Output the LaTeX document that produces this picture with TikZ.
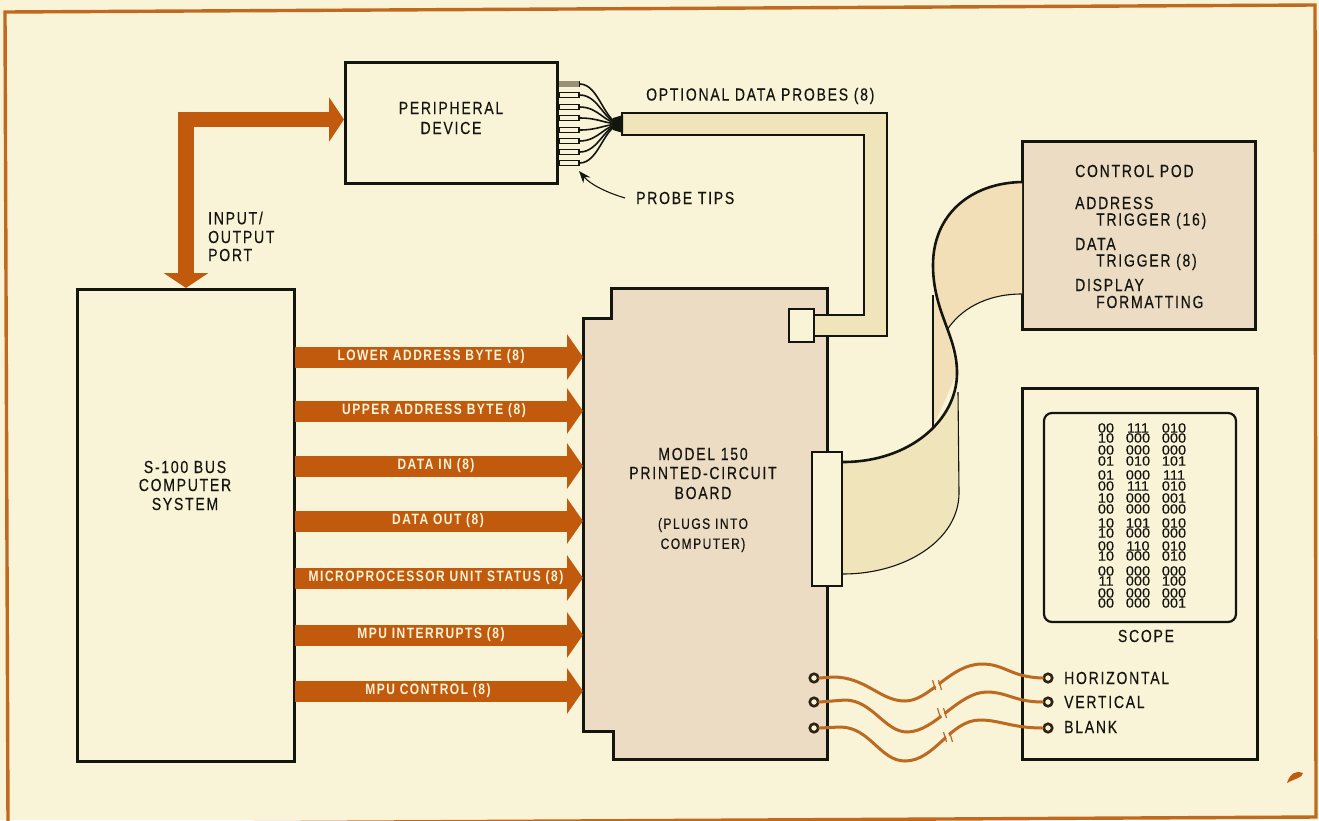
\documentclass[tikz,border=0pt]{standalone}
\usepackage{fontspec}
\setmainfont{Liberation Sans}[FakeStretch=0.80,LetterSpace=10,UprightFeatures={FakeBold=0.35}]
\newfontfamily\digitfont{Liberation Sans}[FakeStretch=1.08,FakeBold=0.3]
\usetikzlibrary{arrows.meta,calc}
\definecolor{paper}{HTML}{F9F3D8}
\definecolor{rust}{HTML}{C25A0E}
\definecolor{edgebrown}{HTML}{BF6A1E}
\definecolor{boardfill}{HTML}{ECDCC4}
\definecolor{cablefill}{HTML}{F0E4BA}
\definecolor{ribbonfill}{HTML}{F2DFB8}
\definecolor{ink}{HTML}{15150F}
\definecolor{wirebrown}{HTML}{BC6A22}
\tikzset{
  box/.style={draw=ink,line width=3pt,inner sep=0pt,anchor=center},
  thinedge/.style={draw=ink,line width=1.1pt},
  heavyedge/.style={draw=ink,line width=2.6pt,line cap=round},
  lbl/.style={inner sep=0pt,text=ink,font=\fontsize{17.5}{18}\selectfont},
  lblleft/.style={lbl,anchor=west},
  smalllbl/.style={inner sep=0pt,text=ink,font=\fontsize{15}{16}\selectfont},
  buslbl/.style={inner sep=0pt,text=paper,font=\fontsize{15}{16}\selectfont\bfseries},
  busarrow/.style={draw=rust,line width=21pt,-{Triangle[length=16pt,width=45pt,fill=rust]}},
  ioarrow/.style={draw=rust,line width=15.5pt,line join=miter,
    {Triangle[length=15pt,width=44pt,fill=rust]}-{Triangle[length=15pt,width=44pt,fill=rust]}},
  wirestyle/.style={draw=wirebrown,line width=3pt,line cap=round},
  breakgap/.style={draw=paper,line width=3.5pt},
  breaktick/.style={draw=wirebrown,line width=1.2pt},
  terminal/.style={circle,draw=ink!85!wirebrown,line width=2.6pt,fill=paper,minimum size=8.5pt,inner sep=0pt},
  probetip/.style={draw=ink,line width=1.2pt,fill=paper,minimum width=20pt,minimum height=5.5pt,inner sep=0pt},
  probewire/.style={draw=ink,line width=1.6pt},
  digits/.style={inner sep=0pt,text=ink,align=center,font=\digitfont\fontsize{13.5}{10}\selectfont},
}
\begin{document}
\begin{tikzpicture}[x=1pt,y=-1pt]
\useasboundingbox (0,0) rectangle (1319,820);
\fill[paper] (0,0) rectangle (1319,820);
% page border
\draw[edgebrown,line width=3.4pt,line join=miter] (5,12) -- (1315,5) -- (1316,817) -- (8,824) -- cycle;
% stain
\fill[rust] (1287,783) .. controls (1290,773) and (1297,770) .. (1303,773) .. controls (1302,778) and (1296,778) .. (1287,783) -- cycle;

% main boxes
\node[box,minimum width=217pt,minimum height=472pt] (s100) at (185.5,525) {};
\node[box,minimum width=212pt,minimum height=121pt] (periph) at (451,122.5) {};
\node[box,fill=boardfill,minimum width=233pt,minimum height=188pt] (pod) at (1138.5,235) {};
\node[box,minimum width=235pt,minimum height=371pt] (scope) at (1139.5,573.5) {};
\node[draw=ink,line width=2.2pt,rounded corners=8pt,inner sep=0pt,minimum width=192pt,minimum height=209pt] (screen) at (1140,517.5) {};

% circuit board outline
\draw[draw=ink,line width=3pt,fill=boardfill,line join=miter]
  (611,288) -- (827,288) -- (827,759) -- (613,759) -- (613,731) -- (583,731) -- (583,318) -- (611,318) -- cycle;

% I/O arrow
\coordinate (ioS) at (186,288);
\coordinate (ioC) at (186,119.5);
\coordinate (ioP) at (344,119.5);
\draw[ioarrow] (ioS) -- (ioC) -- (ioP);

% bus arrows
\foreach \n/\y/\cx/\t in {
  1/357/431/{LOWER ADDRESS BYTE (8)},
  2/411/434/{UPPER ADDRESS BYTE (8)},
  3/466/436/{DATA IN (8)},
  4/521/438/{DATA OUT (8)},
  5/578/436/{MICROPROCESSOR UNIT STATUS (8)},
  6/635/431/{MPU INTERRUPTS (8)},
  7/691/428/{MPU CONTROL (8)}}{
  \coordinate (bs\n) at (295,\y);
  \coordinate (be\n) at (583,\y);
  \draw[busarrow] (bs\n) -- (be\n);
  \node[buslbl] (buslabel\n) at (\cx,\y) {\t};
}

% data probe cable
\draw[thinedge,fill=cablefill,line join=miter]
  (622,113) -- (887,113) -- (887,336) -- (814,336) -- (814,315) -- (864,315) -- (864,135) -- (622,135) -- cycle;
\node[box,line width=2.6pt,fill=paper,minimum width=25pt,minimum height=33pt] (socket) at (801.5,325.5) {};

% probe tips and wires
\coordinate (fan) at (622,124);
\foreach \n/\y in {1/84,2/95,3/107,4/118,5/130,6/141,7/152,8/163}{
  \node[probetip] (tip\n) at (569,\y) {};
  \draw[probewire] (tip\n.east) .. controls +(20,0) and +(-18,0) .. (fan);
}
\fill[cablefill!60!ink] (559,81) rectangle (579,87);
\fill[ink] (613,118) -- (623,115) -- (623,133) -- (613,130) -- cycle;

% probe tips pointer
\coordinate (ptA) at (625,198);
\coordinate (ptB) at (579,171);
\node[lblleft] (probelabel) at (636,198) {PROBE TIPS};
\draw[ink,line width=1.1pt,-{Stealth[length=12pt,width=9pt]}] (ptA) .. controls (605,192) and (590,184) .. (ptB);

% ribbon cable
\coordinate (rA) at (1022,182);
\coordinate (rB) at (933,265);
\coordinate (rC) at (957,373);
\coordinate (rD) at (843,462);
\coordinate (rE) at (1022,294);
\coordinate (rF) at (947,330);
\coordinate (rG) at (933,295);
\coordinate (rH) at (933,427);
\coordinate (rI) at (958,392);
\coordinate (rJ) at (959,493);
\coordinate (rK) at (843,574);
% back fold
\fill[ribbonfill] (rG) -- (rH) -- (rC) -- (rF) -- cycle;
\draw[thinedge] (rG) -- (rH);
% lower sheet
\fill[cablefill] (rD) .. controls (885,462) and (918,445) .. (rH) -- (rI) -- (rJ) .. controls (959,540) and (905,574) .. (rK) -- cycle;
\draw[thinedge] (rI) -- (rJ) .. controls (959,540) and (905,574) .. (rK);
% upper sheet
\fill[ribbonfill] (rA) .. controls (970,183) and (933,215) .. (rB) .. controls (933,300) and (939,315) .. (rF) .. controls (960,310) and (985,294) .. (rE) -- cycle;
\draw[thinedge] (rE) .. controls (985,294) and (960,310) .. (rF);
% heavy leading edge
\draw[heavyedge] (rA) .. controls (970,183) and (933,215) .. (rB) .. controls (933,312) and (957,335) .. (rC) .. controls (957,420) and (910,462) .. (rD);
\node[box,line width=2.4pt,fill=paper,minimum width=30pt,minimum height=134pt] (plug) at (827,519) {};

% analog lines
\node[terminal] (lh) at (814,678) {};
\node[terminal] (lv) at (814,702) {};
\node[terminal] (lb) at (814,728) {};
\node[terminal] (rh) at (1048,678) {};
\node[terminal] (rv) at (1048,702) {};
\node[terminal] (rb) at (1048,728) {};
\draw[wirestyle] (lh.east) -- (833,677) .. controls (866,677) and (880,701) .. (905,701)
   .. controls (930,701) and (950,664) .. (982,664) .. controls (1005,664) and (1010,677) .. (rh.west);
\draw[wirestyle] (lv.east) -- (845,700) .. controls (872,700) and (885,732) .. (907,732)
   .. controls (935,732) and (958,692) .. (987,692) .. controls (1007,692) and (1015,702) .. (rv.west);
\draw[wirestyle] (lb.east) -- (840,727) .. controls (870,727) and (880,761) .. (905,761)
   .. controls (935,761) and (950,720) .. (980,720) .. controls (1000,720) and (1012,728) .. (rb.west);
% breaks in the lines
\foreach \n/\x/\y in {1/937/685,2/942/713,3/948/737}{
  \coordinate (bk\n) at (\x,\y);
  \draw[breakgap] ($(bk\n)+(-3,-6)$) -- ($(bk\n)+(3,6)$);
  \draw[breaktick] ($(bk\n)+(-4.5,-5)$) -- ($(bk\n)+(-1.5,5)$);
  \draw[breaktick] ($(bk\n)+(1.5,-5)$) -- ($(bk\n)+(4.5,5)$);
}

% labels
\node[lbl] (per1) at (451,108) {PERIPHERAL};
\node[lbl] (per2) at (451,128) {DEVICE};
\node[lblleft] (optlabel) at (646,96) {OPTIONAL DATA PROBES (8)};
\node[lblleft] (io1) at (208,218) {INPUT/};
\node[lblleft] (io2) at (208,237) {OUTPUT};
\node[lblleft] (io3) at (208,255) {PORT};
\node[lbl] (sys1) at (185,467) {S-100 BUS};
\node[lbl] (sys2) at (185,485) {COMPUTER};
\node[lbl] (sys3) at (185,504) {SYSTEM};
\node[lbl] (mod1) at (703,454) {MODEL 150};
\node[lbl] (mod2) at (703,473) {PRINTED-CIRCUIT};
\node[lbl] (mod3) at (703,493) {BOARD};
\node[smalllbl] (plg1) at (703,525) {(PLUGS INTO};
\node[smalllbl] (plg2) at (703,545) {COMPUTER)};
\node[lblleft] (pod1) at (1075,171) {CONTROL POD};
\node[lblleft] (pod2) at (1075,203) {ADDRESS};
\node[lblleft] (pod3) at (1096,221) {TRIGGER (16)};
\node[lblleft] (pod4) at (1075,244) {DATA};
\node[lblleft] (pod5) at (1096,262) {TRIGGER (8)};
\node[lblleft] (pod6) at (1075,285) {DISPLAY};
\node[lblleft] (pod7) at (1096,302) {FORMATTING};
\node[lbl] (scopelabel) at (1146,636) {SCOPE};
\node[lblleft] (hlabel) at (1064,678) {HORIZONTAL};
\node[lblleft] (vlabel) at (1064,702) {VERTICAL};
\node[lblleft] (blabel) at (1064,727) {BLANK};

% screen contents, one block per column
\node[digits] (cola) at (1106,515.5) {00\\10\\[2pt]00\\[1pt]01\\[4pt]01\\[1pt]00\\[2pt]10\\[1pt]00\\[4pt]10\\10\\[3pt]00\\10\\[5pt]00\\[0pt]11\\[2pt]00\\00};
\node[digits] (colb) at (1138,515.5) {111\\000\\[2pt]000\\[1pt]010\\[4pt]000\\[1pt]111\\[2pt]000\\[1pt]000\\[4pt]101\\000\\[3pt]110\\000\\[5pt]000\\[0pt]000\\[2pt]000\\000};
\node[digits] (colc) at (1174,515.5) {010\\000\\[2pt]000\\[1pt]101\\[4pt]111\\[1pt]010\\[2pt]001\\[1pt]000\\[4pt]010\\000\\[3pt]010\\010\\[5pt]000\\[0pt]100\\[2pt]000\\001};
\end{tikzpicture}
\end{document}
